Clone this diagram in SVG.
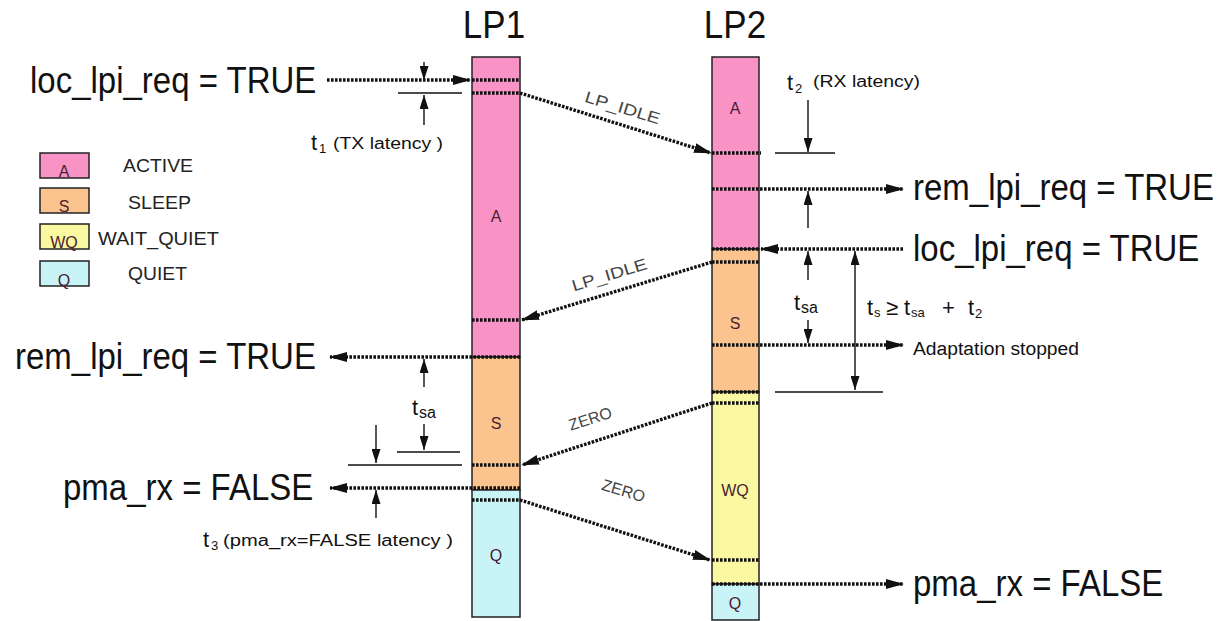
<svg xmlns="http://www.w3.org/2000/svg" width="1222" height="621" viewBox="0 0 1222 621">
<style>
text{font-family:"Liberation Sans",Arial,sans-serif;fill:#111}
.big{font-size:33px}
.hd{font-size:35px;text-anchor:middle}
.col{stroke:#222;stroke-width:1.5}
.A{fill:#F993C6}.S{fill:#FBC48F}.WQ{fill:#FBF8A2}.Q{fill:#C8F4F8}
.dot{stroke:#111;stroke-width:3.4;stroke-dasharray:2.6 1.4;fill:none}
.dim{stroke:#111;stroke-width:1.4;fill:none}
.lbl{font-size:16px;fill:#4a2030;text-anchor:middle}
.msg{font-size:16px;fill:#444;text-anchor:middle}
.leg{font-size:18px;fill:#222}
.t{font-size:22px}
.sub{font-size:13px}
.par{font-size:16px}
</style>
<defs>
<marker id="ah" markerUnits="userSpaceOnUse" markerWidth="18" markerHeight="10" refX="17" refY="5" orient="auto"><path d="M0,0 L18,5 L0,10 z" fill="#111"/></marker>
<marker id="dh" markerUnits="userSpaceOnUse" markerWidth="14" markerHeight="9" refX="14" refY="4.5" orient="auto-start-reverse"><path d="M0,0 L14,4.5 L0,9 z" fill="#111"/></marker>
</defs>
<rect width="1222" height="621" fill="#fff"/>

<g id="legend">
<g id="leg-active"><rect class="col A" x="40" y="153" width="49" height="25"/><text class="lbl" x="64" y="177">A</text><text class="leg" x="123" y="172" textLength="70" lengthAdjust="spacingAndGlyphs">ACTIVE</text></g>
<g id="leg-sleep"><rect class="col S" x="40" y="188" width="49" height="25"/><text class="lbl" x="64" y="212">S</text><text class="leg" x="128" y="209" textLength="63" lengthAdjust="spacingAndGlyphs">SLEEP</text></g>
<g id="leg-wq"><rect class="col WQ" x="40" y="224" width="49" height="25"/><text class="lbl" x="64" y="248">WQ</text><text class="leg" x="98" y="245" textLength="121" lengthAdjust="spacingAndGlyphs">WAIT_QUIET</text></g>
<g id="leg-quiet"><rect class="col Q" x="40" y="261" width="49" height="25"/><text class="lbl" x="64" y="286">Q</text><text class="leg" x="128" y="280" textLength="59" lengthAdjust="spacingAndGlyphs">QUIET</text></g>
</g>

<g id="LP1">
<text class="hd" transform="translate(494,38) scale(1,1.12)">LP1</text>
<rect class="col A" x="472" y="57" width="48" height="300"/>
<rect class="col S" x="472" y="357" width="48" height="133"/>
<rect class="col Q" x="472" y="490" width="48" height="127"/>
<text class="lbl" x="496" y="222">A</text>
<text class="lbl" x="496" y="429">S</text>
<text class="lbl" x="496" y="561">Q</text>
</g>

<g id="LP2">
<text class="hd" transform="translate(735,38) scale(1,1.12)">LP2</text>
<rect class="col A" x="712" y="57" width="47" height="192"/>
<rect class="col S" x="712" y="249" width="47" height="143"/>
<rect class="col WQ" x="712" y="392" width="47" height="192"/>
<rect class="col Q" x="712" y="584" width="47" height="36"/>
<text class="lbl" x="735" y="114">A</text>
<text class="lbl" x="735" y="329">S</text>
<text class="lbl" x="735" y="496">WQ</text>
<text class="lbl" x="735" y="609">Q</text>
</g>

<g id="labels">
<text class="big" transform="translate(30,93) scale(1,1.12)">loc_lpi_req = TRUE</text>
<text class="big" transform="translate(15,369) scale(1,1.12)">rem_lpi_req = TRUE</text>
<text class="big" transform="translate(63,500) scale(1,1.12)">pma_rx = FALSE</text>
<text class="big" transform="translate(913,200) scale(1,1.12)">rem_lpi_req = TRUE</text>
<text class="big" transform="translate(913,261) scale(1,1.12)">loc_lpi_req = TRUE</text>
<text class="big" transform="translate(913,596) scale(1,1.12)">pma_rx = FALSE</text>
<text x="913" y="355" font-size="18" textLength="166" lengthAdjust="spacingAndGlyphs">Adaptation stopped</text>
</g>

<g id="annotations">
<text class="t" x="311" y="150">t</text><text class="sub" x="319" y="153">1</text><text class="par" x="333" y="149" textLength="110" lengthAdjust="spacingAndGlyphs">(TX latency )</text>
<text class="t" x="787" y="90">t</text><text class="sub" x="795" y="93">2</text><text class="par" x="813" y="87" textLength="107" lengthAdjust="spacingAndGlyphs">(RX latency)</text>
<text class="t" x="203" y="547">t</text><text class="sub" x="211" y="550">3</text><text class="par" x="223" y="546" textLength="230" lengthAdjust="spacingAndGlyphs">(pma_rx=FALSE latency )</text>
<text class="t" x="412" y="415">t</text><text class="par" x="419" y="418">sa</text>
<text class="t" x="794" y="310">t</text><text class="par" x="801" y="313">sa</text>
<g id="ts-formula">
<text class="t" x="867" y="315">t</text><text class="sub" x="874" y="317">s</text>
<text class="t" x="886" y="315">≥</text>
<text class="t" x="904" y="315">t</text><text class="sub" x="911" y="317">sa</text>
<text class="t" x="942" y="315">+</text>
<text class="t" x="968" y="315">t</text><text class="sub" x="975" y="318">2</text>
</g>
<text class="msg" transform="translate(621,113) rotate(17)" textLength="78" lengthAdjust="spacingAndGlyphs">LP_IDLE</text>
<text class="msg" transform="translate(611,280) rotate(-17)" textLength="78" lengthAdjust="spacingAndGlyphs">LP_IDLE</text>
<text class="msg" transform="translate(592,424) rotate(-18)">ZERO</text>
<text class="msg" transform="translate(622,496) rotate(17)">ZERO</text>
</g>

<g id="connectors">
<line class="dot" x1="327" y1="80" x2="470" y2="80" marker-end="url(#ah)"/>
<line class="dot" x1="472" y1="80" x2="520" y2="80"/>
<line class="dot" x1="472" y1="93" x2="520" y2="93"/>
<line class="dot" x1="520" y1="93" x2="711" y2="153" marker-end="url(#ah)"/>
<line class="dot" x1="712" y1="153" x2="761" y2="153"/>
<line class="dot" x1="712" y1="189" x2="903" y2="189" marker-end="url(#ah)"/>
<line class="dot" x1="903" y1="249" x2="761" y2="249" marker-end="url(#ah)"/>
<line class="dot" x1="712" y1="249" x2="759" y2="249"/>
<line class="dot" x1="712" y1="262" x2="759" y2="262"/>
<line class="dot" x1="712" y1="262" x2="522" y2="320" marker-end="url(#ah)"/>
<line class="dot" x1="472" y1="320" x2="520" y2="320"/>
<line class="dot" x1="520" y1="357" x2="330" y2="357" marker-end="url(#ah)"/>
<line class="dot" x1="712" y1="345" x2="903" y2="345" marker-end="url(#ah)"/>
<line class="dot" x1="712" y1="392" x2="759" y2="392"/>
<line class="dot" x1="712" y1="403" x2="759" y2="403"/>
<line class="dot" x1="712" y1="403" x2="522" y2="465" marker-end="url(#ah)"/>
<line class="dot" x1="472" y1="465" x2="520" y2="465"/>
<line class="dot" x1="520" y1="488" x2="330" y2="488" marker-end="url(#ah)"/>
<line class="dot" x1="472" y1="500" x2="520" y2="500"/>
<line class="dot" x1="520" y1="500" x2="710" y2="560" marker-end="url(#ah)"/>
<line class="dot" x1="712" y1="560" x2="759" y2="560"/>
<line class="dot" x1="712" y1="584" x2="903" y2="584" marker-end="url(#ah)"/>

<line class="dim" x1="424" y1="62" x2="424" y2="80" marker-end="url(#dh)"/>
<line class="dim" x1="398" y1="93" x2="462" y2="93"/>
<line class="dim" x1="424" y1="125" x2="424" y2="95" marker-end="url(#dh)"/>
<line class="dim" x1="808" y1="100" x2="808" y2="152" marker-end="url(#dh)"/>
<line class="dim" x1="775" y1="153" x2="835" y2="153"/>
<line class="dim" x1="808" y1="228" x2="808" y2="191" marker-end="url(#dh)"/>
<line class="dim" x1="808" y1="280" x2="808" y2="251" marker-end="url(#dh)"/>
<line class="dim" x1="808" y1="320" x2="808" y2="343" marker-end="url(#dh)"/>
<line class="dim" x1="855" y1="251" x2="855" y2="390" marker-start="url(#dh)" marker-end="url(#dh)"/>
<line class="dim" x1="775" y1="392" x2="883" y2="392"/>
<line class="dim" x1="424" y1="387" x2="424" y2="359" marker-end="url(#dh)"/>
<line class="dim" x1="424" y1="424" x2="424" y2="450" marker-end="url(#dh)"/>
<line class="dim" x1="397" y1="452" x2="460" y2="452"/>
<line class="dim" x1="348" y1="465" x2="462" y2="465"/>
<line class="dim" x1="376" y1="425" x2="376" y2="463" marker-end="url(#dh)"/>
<line class="dim" x1="376" y1="518" x2="376" y2="490" marker-end="url(#dh)"/>
</g>
</svg>
